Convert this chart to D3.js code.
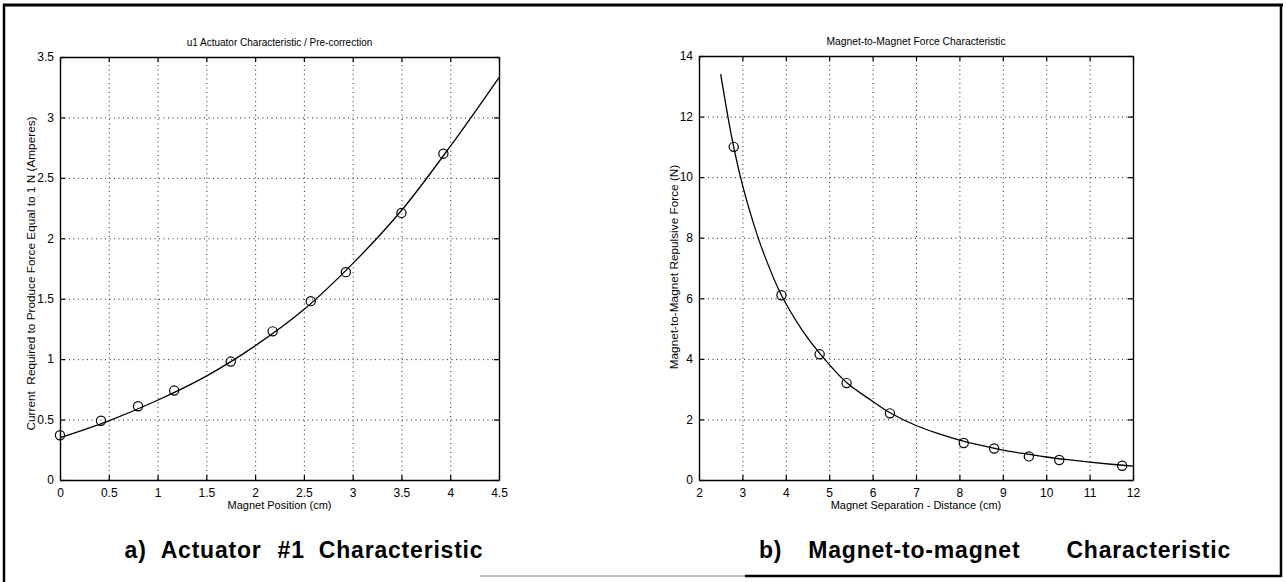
<!DOCTYPE html>
<html><head><meta charset="utf-8">
<script src="https://cdn.jsdelivr.net/npm/d3@7"></script>
<style>
body{margin:0;background:#fff;}
svg{display:block;font-family:"Liberation Sans",Arial,Helvetica,sans-serif;}
</style></head>
<body>
<svg id="chart" width="1286" height="582"></svg>
<script>
// ---- Panel a) data ----
const aPointsX = [0, 0.42, 0.8, 1.17, 1.75, 2.18, 2.57, 2.93, 3.5, 3.93];
const aPointsY = [0.37, 0.49, 0.61, 0.74, 0.98, 1.23, 1.48, 1.72, 2.21, 2.70];
const aCurveX = [0, 0.5, 1, 1.5, 2, 2.5, 3, 3.5, 4, 4.5];
const aCurveY = [0.35, 0.49, 0.66, 0.86, 1.11, 1.41, 1.79, 2.23, 2.76, 3.33];
const aXTicks = [0, 0.5, 1, 1.5, 2, 2.5, 3, 3.5, 4, 4.5];
const aYTicks = [0, 0.5, 1, 1.5, 2, 2.5, 3, 3.5];
const aCaptionWords = ["a)", "Actuator", "#1", "Characteristic"];

// ---- Panel b) data ----
const bPointsX = [2.8, 3.9, 4.78, 5.4, 6.4, 8.1, 8.8, 9.6, 10.3, 11.75];
const bPointsY = [11.0, 6.1, 4.15, 3.2, 2.2, 1.22, 1.04, 0.78, 0.66, 0.47];
const bCurveX = [2.5, 2.75, 3, 3.25, 3.5, 3.9, 4.4, 4.8, 5.4, 6, 6.4, 7, 7.5, 8, 8.5, 9, 9.5, 10, 10.5, 11, 11.5, 12];
const bCurveY = [13.4, 11.35, 9.75, 8.5, 7.45, 6.1, 4.9, 4.15, 3.22, 2.6, 2.22, 1.8, 1.54, 1.32, 1.14, 0.99, 0.87, 0.76, 0.67, 0.59, 0.52, 0.46];
const bXTicks = [2, 3, 4, 5, 6, 7, 8, 9, 10, 11, 12];
const bYTicks = [0, 2, 4, 6, 8, 10, 12, 14];
const bCaptionWords = ["b)", "Magnet-to-magnet", "Characteristic"];

const svg = d3.select("#chart");

function caption(words, gaps, cx, yBase) {
  const g = svg.append("g");
  const texts = words.map(w => g.append("text").attr("y", yBase)
    .attr("font-size", 23).attr("font-weight", "bold").attr("letter-spacing", 0.8).text(w));
  const widths = texts.map(t => t.node().getComputedTextLength());
  const total = d3.sum(widths) + d3.sum(gaps);
  let xPos = cx - total / 2;
  texts.forEach((t, i) => { t.attr("x", xPos); xPos += widths[i] + (gaps[i] || 0); });
}

function panel(o) {
  const x = d3.scaleLinear().domain(o.xDomain).range([o.left, o.right]);
  const y = d3.scaleLinear().domain(o.yDomain).range([o.bottom, o.top]);
  const g = svg.append("g");
  const W = o.right - o.left, H = o.bottom - o.top;

  // grid (dotted)
  g.append("g").attr("transform", `translate(0,${o.bottom})`)
    .call(d3.axisBottom(x).tickValues(o.xTicks.slice(1, -1)).tickSize(-H).tickFormat(""))
    .call(s => s.select(".domain").remove())
    .call(s => s.selectAll("line").attr("stroke", "#222").attr("stroke-dasharray", "1,3.5").attr("stroke-width", 1));
  g.append("g").attr("transform", `translate(${o.left},0)`)
    .call(d3.axisLeft(y).tickValues(o.yTicks.slice(1, -1)).tickSize(-W).tickFormat(""))
    .call(s => s.select(".domain").remove())
    .call(s => s.selectAll("line").attr("stroke", "#222").attr("stroke-dasharray", "1,3.5").attr("stroke-width", 1));

  // axes with inward ticks on all sides
  const tl = 5;
  const fmt = d => String(d);
  const bottomAx = g.append("g").attr("transform", `translate(0,${o.bottom})`)
    .call(d3.axisBottom(x).tickValues(o.xTicks).tickSizeInner(-tl).tickSizeOuter(0).tickPadding(8).tickFormat(fmt));
  const leftAx = g.append("g").attr("transform", `translate(${o.left},0)`)
    .call(d3.axisLeft(y).tickValues(o.yTicks).tickSizeInner(-tl).tickSizeOuter(0).tickPadding(6).tickFormat(fmt));
  const topAx = g.append("g").attr("transform", `translate(0,${o.top})`)
    .call(d3.axisTop(x).tickValues(o.xTicks).tickSizeInner(-tl).tickSizeOuter(0).tickFormat(""));
  const rightAx = g.append("g").attr("transform", `translate(${o.right},0)`)
    .call(d3.axisRight(y).tickValues(o.yTicks).tickSizeInner(-tl).tickSizeOuter(0).tickFormat(""));
  [bottomAx, leftAx, topAx, rightAx].forEach(a => {
    a.select(".domain").attr("stroke", "#000").attr("stroke-width", 1.4);
    a.selectAll(".tick line").attr("stroke", "#000").attr("stroke-width", 1.2);
    a.selectAll("text").attr("font-size", 12).attr("fill", "#000")
      .attr("font-family", "'Liberation Sans',Arial,sans-serif");
  });

  // curve
  const line = d3.line().x(d => x(d[0])).y(d => y(d[1])).curve(d3.curveCatmullRom.alpha(0.5));
  g.append("path").datum(d3.zip(o.curveX, o.curveY))
    .attr("d", line).attr("fill", "none").attr("stroke", "#000").attr("stroke-width", 1.3);

  // markers
  g.selectAll("circle.pt").data(d3.zip(o.ptsX, o.ptsY)).enter().append("circle")
    .attr("cx", d => x(d[0])).attr("cy", d => y(d[1])).attr("r", 4.6)
    .attr("fill", "none").attr("stroke", "#000").attr("stroke-width", 1.2);

  const cx = (o.left + o.right) / 2;
  g.append("text").attr("x", cx).attr("y", o.top - 11).attr("text-anchor", "middle")
    .attr("font-size", o.titleSize).text(o.title);
  g.append("text").attr("x", cx).attr("y", o.bottom + 29).attr("text-anchor", "middle")
    .attr("font-size", 11).text(o.xLabel);
  g.append("text").attr("transform", `translate(${o.yLabelX},${(o.top + o.bottom) / 2 + o.yLabelDy}) rotate(-90)`)
    .attr("text-anchor", "middle").attr("font-size", 11.8).attr("xml:space", "preserve").text(o.yLabel);
}

panel({
  left: 60, right: 499, top: 57, bottom: 480,
  xDomain: [0, 4.5], yDomain: [0, 3.5], xTicks: aXTicks, yTicks: aYTicks,
  ptsX: aPointsX, ptsY: aPointsY, curveX: aCurveX, curveY: aCurveY,
  title: "u1 Actuator Characteristic / Pre-correction", titleSize: 10,
  xLabel: "Magnet Position (cm)",
  yLabel: "Current  Required to Produce Force Equal to 1 N (Amperes)", yLabelX: 35, yLabelDy: 5
});
panel({
  left: 699, right: 1133, top: 56, bottom: 480,
  xDomain: [2, 12], yDomain: [0, 14], xTicks: bXTicks, yTicks: bYTicks,
  ptsX: bPointsX, ptsY: bPointsY, curveX: bCurveX, curveY: bCurveY,
  title: "Magnet-to-Magnet Force Characteristic", titleSize: 10.3,
  xLabel: "Magnet Separation - Distance (cm)",
  yLabel: "Magnet-to-Magnet Repulsive Force (N)", yLabelX: 678, yLabelDy: -1
});

caption(aCaptionWords, [14, 16, 14], 304, 558);
caption(bCaptionWords, [26, 46], 995, 558);

// page border (scanned frame)
const border = svg.append("g").attr("stroke", "#000").attr("fill", "none");
border.append("line").attr("x1", 3).attr("x2", 1283).attr("y1", 5).attr("y2", 5).attr("stroke-width", 3);
border.append("line").attr("x1", 4).attr("x2", 4).attr("y1", 4).attr("y2", 582).attr("stroke-width", 2.5);
border.append("line").attr("x1", 1281).attr("x2", 1281).attr("y1", 4).attr("y2", 577).attr("stroke-width", 2.5);
border.append("line").attr("x1", 745).attr("x2", 1282).attr("y1", 576).attr("y2", 576).attr("stroke-width", 2.5);
border.append("line").attr("x1", 480).attr("x2", 745).attr("y1", 576).attr("y2", 576).attr("stroke-width", 1.5).attr("stroke", "#aaa");
</script>
</body></html>
